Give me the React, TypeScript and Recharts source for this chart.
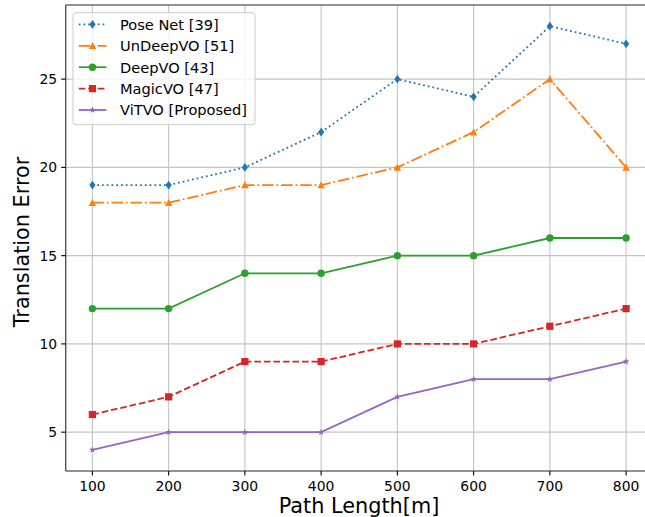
import React from 'react';
import {
  LineChart,
  Line,
  XAxis,
  YAxis,
  CartesianGrid,
  ReferenceLine
} from 'recharts';

// path length in metres
const pathLengths = [100, 200, 300, 400, 500, 600, 700, 800];

const poseNet = [19, 19, 20, 22, 25, 24, 28, 27];
const unDeepVO = [18, 18, 19, 19, 20, 22, 25, 20];
const deepVO = [12, 12, 14, 14, 15, 15, 16, 16];
const magicVO = [6, 7, 9, 9, 10, 10, 11, 12];
const viTVO = [4, 5, 5, 5, 7, 8, 8, 9];

const xTicks = [100, 200, 300, 400, 500, 600, 700, 800];
const yTicks = [5, 10, 15, 20, 25];

const FONT = '"DejaVu Sans", Verdana, sans-serif';
const LW = 1.8;

type Shape = 'diamond' | 'triangle' | 'circle' | 'square' | 'star';

const series: Array<{ key: string; name: string; color: string; dash?: string; shape: Shape }> = [
  { key: 'poseNet', name: 'Pose Net [39]', color: '#1f77b4', dash: `${1 * LW} ${1.65 * LW}`, shape: 'diamond' },
  { key: 'unDeepVO', name: 'UnDeepVO [51]', color: '#ff7f0e', dash: `${6.4 * LW} ${1.6 * LW} ${1 * LW} ${1.6 * LW}`, shape: 'triangle' },
  { key: 'deepVO', name: 'DeepVO [43]', color: '#2ca02c', shape: 'circle' },
  { key: 'magicVO', name: 'MagicVO [47]', color: '#d62728', dash: `${3.7 * LW} ${1.6 * LW}`, shape: 'square' },
  { key: 'viTVO', name: 'ViTVO [Proposed]', color: '#9467bd', shape: 'star' }
];

const chartData = pathLengths.map((len, i) => ({
  len,
  poseNet: poseNet[i],
  unDeepVO: unDeepVO[i],
  deepVO: deepVO[i],
  magicVO: magicVO[i],
  viTVO: viTVO[i]
}));

const starPath = (cx: number, cy: number, r: number) => {
  const pts: string[] = [];
  for (let k = 0; k < 10; k++) {
    const rad = k % 2 === 0 ? r : r * 0.42;
    const a = -Math.PI / 2 + (k * Math.PI) / 5;
    pts.push(`${cx + rad * Math.cos(a)},${cy + rad * Math.sin(a)}`);
  }
  return `M${pts.join('L')}Z`;
};

const Marker = ({ shape, cx, cy, color }: { shape: Shape; cx: number; cy: number; color: string }) => {
  switch (shape) {
    case 'diamond':
      return <path d={`M${cx},${cy - 4.4}L${cx + 3.1},${cy}L${cx},${cy + 4.4}L${cx - 3.1},${cy}Z`} fill={color} />;
    case 'triangle':
      return <path d={`M${cx},${cy - 3.8}L${cx + 3.7},${cy + 3.3}L${cx - 3.7},${cy + 3.3}Z`} fill={color} />;
    case 'circle':
      return <circle cx={cx} cy={cy} r={3.7} fill={color} />;
    case 'square':
      return <rect x={cx - 3.6} y={cy - 3.6} width={7.2} height={7.2} fill={color} />;
    default:
      return <path d={starPath(cx, cy, 3.5)} fill={color} />;
  }
};

const makeDot = (shape: Shape, color: string) => (props: any) => {
  const { cx, cy, index } = props;
  if (cx == null || cy == null) return <g key={index} />;
  return <Marker key={index} shape={shape} cx={cx} cy={cy} color={color} />;
};

const XTick = ({ x, y, payload }: any) => (
  <text x={x} y={y + 13.5} textAnchor="middle" fontSize={13.9} fontFamily={FONT} fill="#000">
    {payload.value}
  </text>
);

const YTick = ({ x, y, payload }: any) => (
  <text x={x - 2} y={y + 5} textAnchor="end" fontSize={13.9} fontFamily={FONT} fill="#000">
    {payload.value}
  </text>
);

const renderYLabel = () => (
  <text
    x={28.5}
    y={242}
    transform="rotate(-90 28.5 242)"
    textAnchor="middle"
    fontSize={20.8}
    fontFamily={FONT}
    fill="#000"
  >
    Translation Error
  </text>
);

const renderXLabel = () => (
  <text x={359} y={512.5} textAnchor="middle" fontSize={20.8} fontFamily={FONT} fill="#000">
    Path Length[m]
  </text>
);

// matplotlib-style legend box, drawn on top of the plot
const LegendBox = () => (
  <svg width={186} height={116} style={{ position: 'absolute', left: 71, top: 11 }}>
    <rect x={2} y={1.7} width={182} height={112} rx={3} ry={3} fill="#fff" fillOpacity={0.8} stroke="#cccccc" strokeWidth={1} />
    {series.map((s, i) => {
      const cy = 13.4 + i * 21.4;
      return (
        <g key={s.key}>
          <line x1={7.7} x2={35.4} y1={cy} y2={cy} stroke={s.color} strokeWidth={LW} strokeDasharray={s.dash} />
          <Marker shape={s.shape} cx={21.5} cy={cy} color={s.color} />
          <text x={49} y={cy + 5.3} fontSize={14.6} fontFamily={FONT} fill="#000">
            {s.name}
          </text>
        </g>
      );
    })}
  </svg>
);

export default function App() {
  return (
    <div style={{ position: 'fixed', left: 0, top: 0, width: 645, height: 517, overflow: 'hidden', background: '#fff' }}>
      <LineChart width={660} height={517} data={chartData} margin={{ top: 5, right: 7.2, bottom: 6, left: 5.7 }}>
        <CartesianGrid stroke="#c4c4c4" strokeWidth={1.1} />
        <XAxis
          dataKey="len"
          type="number"
          domain={[65, 835]}
          ticks={xTicks}
          height={40}
          tickSize={4.5}
          tickMargin={2}
          stroke="#444"
          strokeWidth={1.2}
          tickLine={{ stroke: '#000', strokeWidth: 1.1 }}
          tick={<XTick />}
          label={{ value: 'Path Length[m]', content: renderXLabel }}
        />
        <YAxis
          type="number"
          domain={[2.8, 29.2]}
          ticks={yTicks}
          width={60}
          tickSize={4.5}
          tickMargin={2}
          stroke="#444"
          strokeWidth={1.2}
          tickLine={{ stroke: '#000', strokeWidth: 1.1 }}
          tick={<YTick />}
          allowDataOverflow
          label={{ value: 'Translation Error', content: renderYLabel }}
        />
        <ReferenceLine y={29.2} stroke="#444" strokeWidth={1.2} />
        {series.map(s => (
          <Line
            key={s.key}
            dataKey={s.key}
            name={s.name}
            type="linear"
            stroke={s.color}
            strokeWidth={LW}
            strokeDasharray={s.dash}
            dot={makeDot(s.shape, s.color)}
            activeDot={false}
            isAnimationActive={false}
          />
        ))}
      </LineChart>
      <LegendBox />
    </div>
  );
}
